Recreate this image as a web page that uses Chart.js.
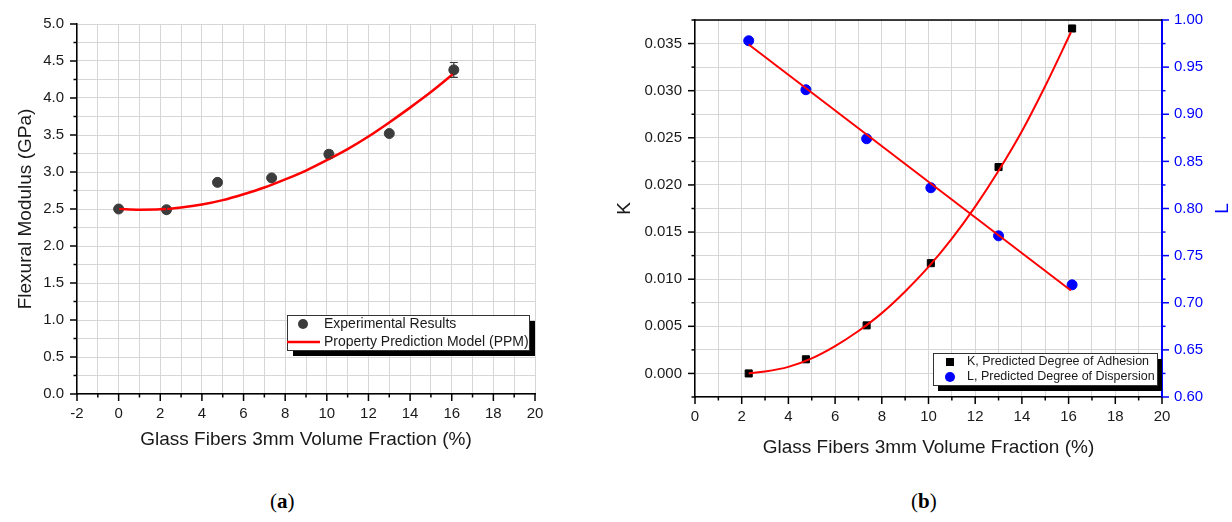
<!DOCTYPE html>
<html>
<head>
<meta charset="utf-8">
<script src="https://cdn.jsdelivr.net/npm/chart.js@4.4.1/dist/chart.umd.min.js"></script>
<style>
  html, body { margin: 0; padding: 0; background: #fff; overflow: hidden; }
  #wrap { position: relative; width: 1232px; height: 522px; }
  canvas { position: absolute; top: 0; }
  #chartA { left: 0; }
  #chartB { left: 600px; }
  .cap { position: absolute; top: 489px; font: 21px 'Liberation Serif', 'DejaVu Serif', serif; color: #000; }
</style>
</head>
<body>
<div id="wrap">
  <canvas id="chartA" width="560" height="470"></canvas>
  <canvas id="chartB" width="632" height="480"></canvas>
  <div class="cap" style="left:270px">(<b>a</b>)</div>
  <div class="cap" style="left:911px">(<b>b</b>)</div>
</div>
<script>
// (a) flexural modulus against glass fibre volume fraction
const fractionExp = [0, 2.3, 4.75, 7.35, 10.1, 13.0, 16.1];
const modulusExp = [2.50, 2.49, 2.86, 2.92, 3.24, 3.52, 4.38];
const modulusErr = [0.02, 0.04, 0.02, 0.02, 0.05, 0.02, 0.10];
const fractionPPM = [0, 1, 2, 3, 4, 5, 6, 7, 8, 9, 10, 11, 12, 13, 14, 15, 16.05];
const modulusPPM = [2.50, 2.49, 2.495, 2.52, 2.56, 2.62, 2.70, 2.79, 2.90, 3.02, 3.16, 3.31, 3.48, 3.67, 3.87, 4.08, 4.32];

// (b) predicted adhesion K and dispersion L
const fractionKL = [2.3, 4.75, 7.35, 10.1, 13.0, 16.15];
const kValues = [0.0000, 0.0015, 0.0051, 0.0117, 0.0219, 0.0366];
const lValues = [0.978, 0.926, 0.874, 0.822, 0.771, 0.719];
const fractionKFit = [2.3, 3, 4, 5, 6, 7, 8, 9, 10, 11, 12, 13, 14, 15, 16.1];
const kFit = [0.0000, 0.0002, 0.0007, 0.0016, 0.0029, 0.0045, 0.0064, 0.0087, 0.0113, 0.0143, 0.0177, 0.0215, 0.0257, 0.0305, 0.0362];
const fractionLFit = [2.3, 16.1];
const lFit = [0.974, 0.713];

const FONT = "'Liberation Sans', Arial, sans-serif";
Chart.defaults.font.family = FONT;
Chart.defaults.color = '#1a1a1a';

const toPoints = (xs, ys) => xs.map((x, i) => ({ x, y: ys[i] }));
const isMajor = (v, step) => Math.abs(v / step - Math.round(v / step)) < 1e-6;

// outward tick marks, long on labelled ticks, short on the rest
const tickMarks = {
  id: 'tickMarks',
  afterDraw(chart) {
    const ctx = chart.ctx;
    Object.values(chart.scales).forEach((scale) => {
      const o = scale.options;
      ctx.save();
      ctx.strokeStyle = o.border.color;
      ctx.lineWidth = 1.5;
      scale.ticks.forEach((t) => {
        const len = t.label === '' ? 3.5 : 7;
        const p = scale.getPixelForValue(t.value);
        ctx.beginPath();
        if (scale.isHorizontal()) {
          ctx.moveTo(p, scale.top); ctx.lineTo(p, scale.top + len);
        } else if (o.position === 'left') {
          ctx.moveTo(scale.right, p); ctx.lineTo(scale.right - len, p);
        } else {
          ctx.moveTo(scale.left, p); ctx.lineTo(scale.left + len, p);
        }
        ctx.stroke();
      });
      ctx.restore();
    });
  }
};

const errorBars = {
  id: 'errorBars',
  afterDatasetsDraw(chart) {
    const ctx = chart.ctx;
    chart.data.datasets.forEach((ds) => {
      if (!ds.errors) return;
      const xs = chart.scales.x, ys = chart.scales[ds.yAxisID || 'y'];
      ctx.save();
      ctx.strokeStyle = ds.borderColor;
      ctx.lineWidth = 1.2;
      ds.data.forEach((pt, j) => {
        const x = xs.getPixelForValue(pt.x);
        const y1 = ys.getPixelForValue(pt.y + ds.errors[j]);
        const y2 = ys.getPixelForValue(pt.y - ds.errors[j]);
        ctx.beginPath();
        ctx.moveTo(x, y1); ctx.lineTo(x, y2);
        ctx.moveTo(x - 4, y1); ctx.lineTo(x + 4, y1);
        ctx.moveTo(x - 4, y2); ctx.lineTo(x + 4, y2);
        ctx.stroke();
      });
      ctx.restore();
    });
  }
};

// framed legend with a solid drop shadow
const boxLegend = {
  id: 'boxLegend',
  afterDraw(chart, args, opts) {
    const ctx = chart.ctx;
    const [x, y, w, h] = opts.box;
    ctx.save();
    ctx.fillStyle = '#000';
    ctx.fillRect(x + opts.shadow[0], y + opts.shadow[1], w, h);
    ctx.fillStyle = '#fff';
    ctx.fillRect(x, y, w, h);
    ctx.strokeStyle = '#333';
    ctx.lineWidth = 1;
    ctx.strokeRect(x + 0.5, y + 0.5, w, h);
    ctx.font = opts.fontSize + 'px ' + FONT;
    ctx.textBaseline = 'middle';
    opts.items.forEach((it, i) => {
      const cy = y + opts.firstRow + i * opts.rowGap;
      ctx.fillStyle = it.color;
      ctx.strokeStyle = it.color;
      if (it.marker === 'circle') {
        ctx.beginPath(); ctx.arc(opts.markerX, cy, 5, 0, Math.PI * 2); ctx.fill();
      } else if (it.marker === 'square') {
        ctx.fillRect(opts.markerX - 4, cy - 4, 8, 8);
      } else {
        ctx.lineWidth = 2.5;
        ctx.beginPath(); ctx.moveTo(x, cy); ctx.lineTo(opts.textX - 4, cy); ctx.stroke();
      }
      ctx.fillStyle = '#1a1a1a';
      ctx.fillText(it.text, opts.textX, cy);
    });
    ctx.restore();
  }
};

// top frame line and the right-hand title of chart (b)
const frameB = {
  id: 'frameB',
  afterDraw(chart) {
    const ctx = chart.ctx, a = chart.chartArea;
    ctx.save();
    ctx.strokeStyle = '#000';
    ctx.lineWidth = 1.5;
    ctx.beginPath(); ctx.moveTo(a.left, a.top); ctx.lineTo(a.right, a.top); ctx.stroke();
    ctx.translate(623, (a.top + a.bottom) / 2);
    ctx.rotate(-Math.PI / 2);
    ctx.fillStyle = '#0000ff';
    ctx.font = '19px ' + FONT;
    ctx.textAlign = 'center';
    ctx.textBaseline = 'middle';
    ctx.fillText('L', 0, 0);
    ctx.restore();
  }
};

const gridCol = '#d6d6d6';
const hideTickLine = 'rgba(0,0,0,0)';

new Chart(document.getElementById('chartA'), {
  type: 'scatter',
  data: {
    datasets: [
      {
        label: 'Property Prediction Model (PPM)',
        data: toPoints(fractionPPM, modulusPPM),
        showLine: true,
        borderColor: '#ff0000',
        borderWidth: 2.5,
        pointRadius: 0,
        cubicInterpolationMode: 'monotone'
      },
      {
        label: 'Experimental Results',
        data: toPoints(fractionExp, modulusExp),
        errors: modulusErr,
        backgroundColor: '#3c3c3c',
        borderColor: '#3c3c3c',
        pointRadius: 5
      }
    ]
  },
  options: {
    responsive: false,
    animation: false,
    layout: { padding: { top: 24, right: 25, left: 0, bottom: 0 } },
    plugins: {
      legend: { display: false },
      tooltip: { enabled: false },
      boxLegend: {
        box: [287, 315, 242, 35], shadow: [6, 6], fontSize: 14,
        firstRow: 9, rowGap: 18, markerX: 303, textX: 324,
        items: [
          { marker: 'circle', color: '#3c3c3c', text: 'Experimental Results' },
          { marker: 'line', color: '#ff0000', text: 'Property Prediction Model (PPM)' }
        ]
      }
    },
    scales: {
      x: {
        type: 'linear', min: -2, max: 20,
        afterFit: (s) => { s.height = 76; },
        border: { color: '#000', width: 1.5 },
        grid: { color: gridCol, tickLength: 7, tickColor: hideTickLine },
        ticks: {
          stepSize: 1, autoSkip: false, maxRotation: 0, padding: 4,
          font: { size: 15 },
          callback: (v) => isMajor(v, 2) ? String(Math.round(v)) : ''
        },
        title: { display: true, text: 'Glass Fibers 3mm Volume Fraction (%)', font: { size: 19 }, padding: { top: 0, bottom: 19 } }
      },
      y: {
        type: 'linear', min: 0, max: 5,
        afterFit: (s) => { s.width = 77; },
        border: { color: '#000', width: 1.5 },
        grid: { color: gridCol, tickLength: 7, tickColor: hideTickLine },
        ticks: {
          stepSize: 0.25, autoSkip: false, padding: 6,
          font: { size: 15 },
          callback: (v) => isMajor(v, 0.5) ? v.toFixed(1) : ''
        },
        title: { display: true, text: 'Flexural Modulus (GPa)', font: { size: 19 }, padding: { top: 14, bottom: 0 } }
      }
    }
  },
  plugins: [errorBars, tickMarks, boxLegend]
});

new Chart(document.getElementById('chartB'), {
  type: 'scatter',
  data: {
    datasets: [
      {
        label: 'L fit',
        data: toPoints(fractionLFit, lFit),
        yAxisID: 'y1',
        showLine: true,
        borderColor: '#ff0000',
        borderWidth: 2,
        pointRadius: 0
      },
      {
        label: 'K fit',
        data: toPoints(fractionKFit, kFit),
        showLine: true,
        borderColor: '#ff0000',
        borderWidth: 2,
        pointRadius: 0,
        cubicInterpolationMode: 'monotone'
      },
      {
        label: 'K, Predicted Degree of Adhesion',
        data: toPoints(fractionKL, kValues),
        backgroundColor: '#000',
        borderColor: '#000',
        pointStyle: 'rect',
        pointRadius: 5
      },
      {
        label: 'L, Predicted Degree of Dispersion',
        data: toPoints(fractionKL, lValues),
        yAxisID: 'y1',
        backgroundColor: '#0000ff',
        borderColor: '#0000ff',
        pointRadius: 5
      }
    ]
  },
  options: {
    responsive: false,
    animation: false,
    layout: { padding: { top: 20, right: 0, left: 0, bottom: 0 } },
    plugins: {
      legend: { display: false },
      tooltip: { enabled: false },
      boxLegend: {
        box: [333, 353, 224, 32], shadow: [5, 6], fontSize: 12.5,
        firstRow: 9, rowGap: 15, markerX: 350, textX: 367,
        items: [
          { marker: 'square', color: '#000', text: 'K, Predicted Degree of Adhesion' },
          { marker: 'circle', color: '#0000ff', text: 'L, Predicted Degree of Dispersion' }
        ]
      }
    },
    scales: {
      x: {
        type: 'linear', min: 0, max: 20,
        afterFit: (s) => { s.height = 83; },
        border: { color: '#000', width: 1.5 },
        grid: { color: gridCol, tickLength: 7, tickColor: hideTickLine },
        ticks: {
          stepSize: 1, autoSkip: false, maxRotation: 0, padding: 4,
          font: { size: 15 },
          callback: (v) => isMajor(v, 2) ? String(Math.round(v)) : ''
        },
        title: { display: true, text: 'Glass Fibers 3mm Volume Fraction (%)', font: { size: 19 }, padding: { top: 0, bottom: 21 } }
      },
      y: {
        type: 'linear', position: 'left', min: -0.0025, max: 0.0375,
        afterFit: (s) => { s.width = 95; },
        border: { color: '#000', width: 1.5 },
        grid: {
          color: (c) => isMajor(c.tick.value, 0.005) ? gridCol : 'rgba(0,0,0,0)',
          tickLength: 7, tickColor: hideTickLine
        },
        ticks: {
          stepSize: 0.0025, autoSkip: false, padding: 6,
          font: { size: 15 },
          callback: (v) => isMajor(v, 0.005) ? (Math.abs(v) < 1e-9 ? '0.000' : v.toFixed(3)) : ''
        },
        title: { display: true, text: 'K', font: { size: 19 }, padding: { top: 13, bottom: 0 } }
      },
      y1: {
        type: 'linear', position: 'right', min: 0.6, max: 1.0,
        afterFit: (s) => { s.width = 70; },
        border: { color: '#0000ff', width: 2 },
        grid: {
          color: (c) => isMajor(c.tick.value, 0.05) ? gridCol : 'rgba(0,0,0,0)',
          tickLength: 7, tickColor: hideTickLine
        },
        ticks: {
          stepSize: 0.025, autoSkip: false, padding: 5,
          color: '#0000ff',
          font: { size: 15 },
          callback: (v) => isMajor(v, 0.05) ? v.toFixed(2) : ''
        }
      }
    }
  },
  plugins: [tickMarks, boxLegend, frameB]
});
</script>
</body>
</html>
